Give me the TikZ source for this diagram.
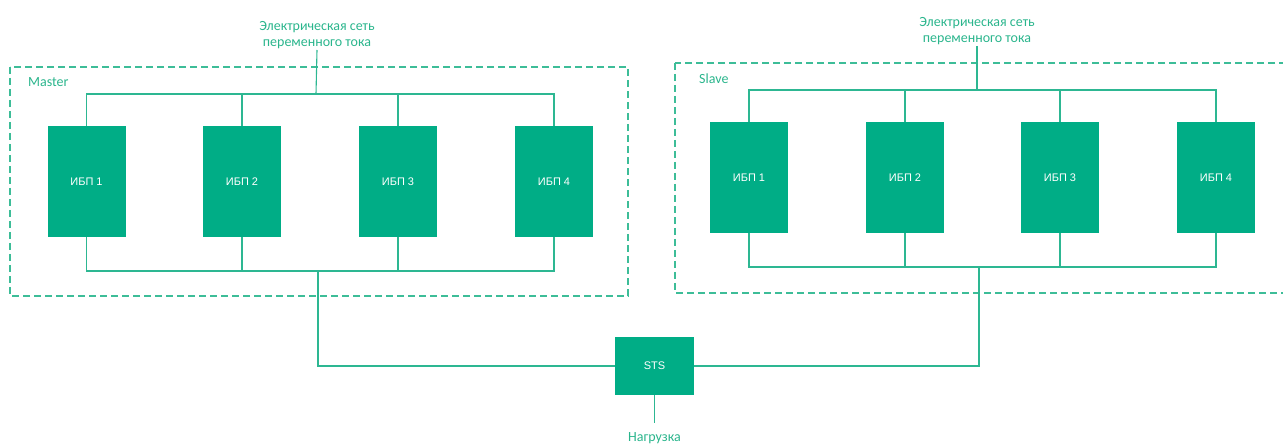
\documentclass[tikz,border=0pt]{standalone}
\usepackage{fontspec}
\setmainfont{Carlito}
\newfontfamily\boxfont{Liberation Sans}
\definecolor{upsfill}{HTML}{00AD86}
\definecolor{wire}{HTML}{2DB792}
\definecolor{lbl}{HTML}{2AB58C}
\definecolor{dash}{HTML}{3DBD98}
\tikzset{
  ups/.style={rectangle, fill=upsfill, minimum width=78pt, minimum height=111pt, inner sep=0pt,
    text=white, font=\boxfont\fontsize{11}{12}\selectfont},
  stsbox/.style={rectangle, fill=upsfill, minimum width=79pt, minimum height=58pt, inner sep=0pt,
    text=white, font=\boxfont\fontsize{11}{12}\selectfont},
  wireline/.style={draw=wire, line width=1.1pt},
  grp/.style={draw=dash, line width=1.2pt, dash pattern=on 7pt off 4pt},
  lab/.style={text=lbl, font=\fontsize{14}{16}\selectfont, align=center, inner sep=1pt},
}
\begin{document}
\begin{tikzpicture}[x=1pt,y=-1pt]
\useasboundingbox (0,0) rectangle (1283,446);
\clip (0,0) rectangle (1283,446);
% group frames
\draw[grp] (10,67) rectangle (628,296);
\draw[grp] (675,63) rectangle (1295,293);
\node[lab, anchor=base west] (mname) at (27,87) {Master};
\node[lab, anchor=base west] (sname) at (698,84) {Slave};
% supply labels
\node[lab, anchor=south] (mtxt) at (317,50) {Электрическая сеть\\переменного тока};
\node[lab, anchor=south] (stxt) at (977,46) {Электрическая сеть\\переменного тока};
% master UPS
\node[ups] (m1) at (86.5,181.5) {ИБП 1};
\node[ups] (m2) at (242,181.5) {ИБП 2};
\node[ups] (m3) at (398,181.5) {ИБП 3};
\node[ups] (m4) at (554,181.5) {ИБП 4};
% slave UPS
\node[ups] (s1) at (749,177.5) {ИБП 1};
\node[ups] (s2) at (905,177.5) {ИБП 2};
\node[ups] (s3) at (1060,177.5) {ИБП 3};
\node[ups] (s4) at (1216,177.5) {ИБП 4};
% STS
\node[stsbox] (sts) at (654.5,366) {STS};
\node[lab, anchor=base] (load) at (654.5,441) {Нагрузка};
\coordinate (loadend) at (654.5,423);
% bus coordinates
\coordinate (mtop) at (316,94);
\coordinate (mbot) at (318,271);
\coordinate (stop) at (977,90);
\coordinate (sbot) at (979,267);
% master wiring
\draw[wireline] (mtxt.south) -- (mtop);
\foreach \n in {m1,m2,m3,m4} {\draw[wireline] (\n.north) |- (mtop);}
\foreach \n in {m1,m2,m3,m4} {\draw[wireline] (\n.south) |- (mbot);}
\draw[wireline] (mbot) |- (sts.west);
% slave wiring
\draw[wireline] (stxt.south) -- (stop);
\foreach \n in {s1,s2,s3,s4} {\draw[wireline] (\n.north) |- (stop);}
\foreach \n in {s1,s2,s3,s4} {\draw[wireline] (\n.south) |- (sbot);}
\draw[wireline] (sbot) |- (sts.east);
% load
\draw[wireline] (sts.south) -- (loadend);
\end{tikzpicture}
\end{document}
